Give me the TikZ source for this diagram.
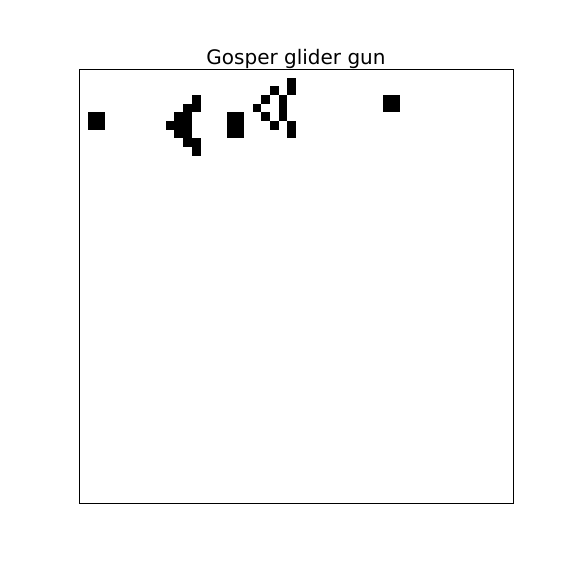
\documentclass[tikz,border=0pt]{standalone}
\usepackage{fontspec}
\setmainfont{DejaVu Sans}
\begin{document}
\begin{tikzpicture}[x=1pt,y=-1pt,
  cellstyle/.style={fill=black,draw=none},
  framestyle/.style={draw=black,line width=0.8pt},
  titlestyle/.style={font=\fontsize{20}{24}\selectfont,anchor=base}]
\useasboundingbox (0,0) rectangle (576,576);
\def\cs{8.68}
\foreach \r/\c in {5/1,5/2,6/1,6/2,
  3/13,4/12,4/13,5/11,5/12,6/10,6/11,6/12,7/11,7/12,8/12,8/13,9/13,
  5/17,5/18,6/17,6/18,7/17,7/18,
  1/24,2/24,2/22,3/21,3/23,4/23,5/23,4/20,5/21,6/22,6/24,7/24,
  3/35,3/36,4/35,4/36}
  \fill[cellstyle] ({79+\c*\cs},{69+\r*\cs}) rectangle ({79+(\c+1)*\cs},{69+(\r+1)*\cs});
\draw[framestyle] (79,69) rectangle (513,503);
\node[titlestyle] (title) at (296,64) {Gosper glider gun};
\end{tikzpicture}
\end{document}
